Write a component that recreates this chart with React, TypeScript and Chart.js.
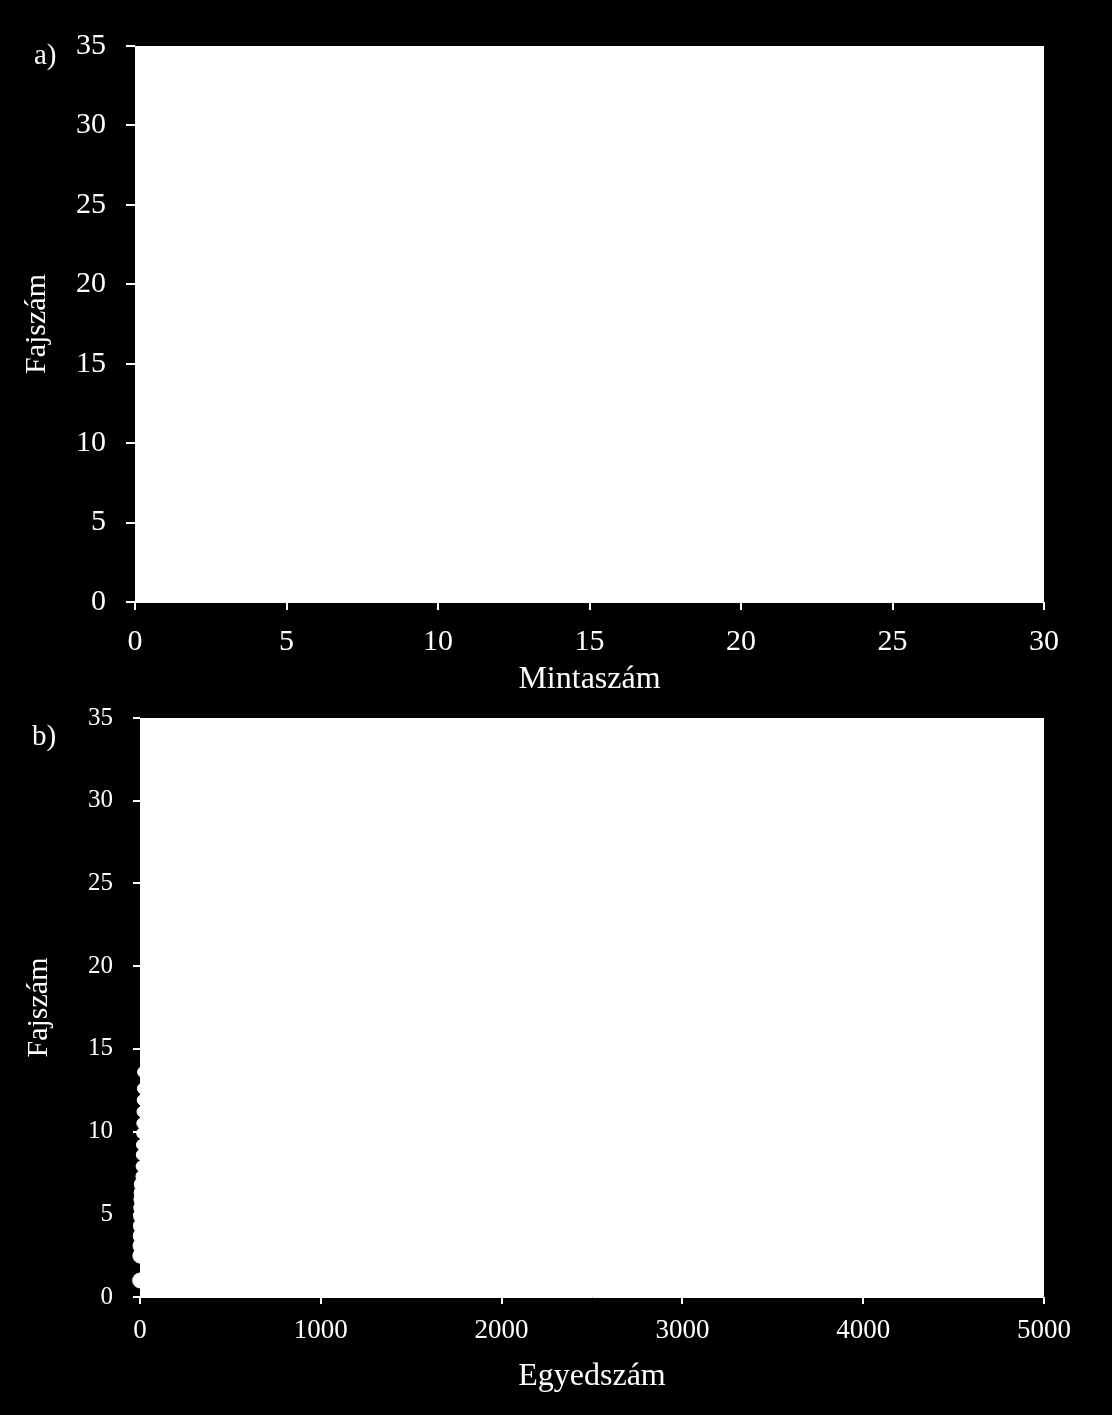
import { useEffect, useRef } from "react";
import { Chart, registerables } from "chart.js";

Chart.register(...registerables);

// a) fajszám a minták számának függvényében
const mintaszam = [1, 2, 3, 4, 5, 6, 7, 8, 9, 10, 11, 12, 13, 14, 15, 16, 17, 18, 19, 20, 21, 22, 23, 24, 25, 26, 27, 28, 29, 30];
const fajszamMinta = [6, 9, 11, 13, 14, 15.5, 17, 18, 19, 20, 20.5, 21, 22, 22.5, 23, 23.5, 24, 24.5, 25, 25, 25.5, 26, 26, 26.5, 27, 27, 27.5, 28, 28, 28.5];

// b) fajszám az egyedszám függvényében
const egyedszamKicsi = [1, 2, 3, 4, 5, 6, 7, 8, 9, 10];
const fajszamKicsi = [1.0, 2.5, 3.1, 3.7, 4.3, 4.9, 5.4, 5.9, 6.3, 6.8];
const egyedszamNagy = [8, 9, 10, 11, 12, 13, 14, 15, 16, 17];
const fajszamNagy = [7.3, 7.9, 8.6, 9.2, 9.9, 10.5, 11.2, 11.9, 12.6, 13.6];

const FONT = "'Liberation Serif', 'Times New Roman', serif";
const WHITE = "#ffffff";

const whiteArea = {
  id: "whiteArea",
  beforeDraw(chart: any) {
    const { ctx, chartArea } = chart;
    const { left, top, right, bottom } = chartArea;
    ctx.save();
    ctx.fillStyle = WHITE;
    ctx.fillRect(left, top, right - left, bottom - top);
    ctx.restore();
  },
};

const ChartA: React.FC = () => {
  const ref = useRef<HTMLCanvasElement | null>(null);

  useEffect(() => {
    if (!ref.current) return;
    const chart = new Chart(ref.current, {
      type: "line",
      data: {
        datasets: [
          {
            label: "Fajszám",
            data: mintaszam.map((m, i) => ({ x: m, y: fajszamMinta[i] })),
            borderColor: WHITE,
            borderWidth: 2,
            pointRadius: 0,
            fill: false,
          },
        ],
      },
      options: {
        animation: false,
        responsive: false,
        devicePixelRatio: 1,
        layout: { padding: { top: 46, right: 68, left: 0, bottom: 0 } },
        plugins: { legend: { display: false }, tooltip: { enabled: false } },
        scales: {
          x: {
            type: "linear",
            min: 0,
            max: 30,
            ticks: { stepSize: 5, color: WHITE, font: { family: FONT, size: 30 }, padding: 14, maxRotation: 0 },
            grid: { drawOnChartArea: false, color: WHITE, lineWidth: 2, tickLength: 8 },
            border: { color: WHITE, width: 1 },
            title: {
              display: true,
              text: "Mintaszám",
              color: WHITE,
              font: { family: FONT, size: 32 },
              padding: { top: 0, bottom: 1 },
            },
            afterFit(scale: any) {
              scale.height = 98;
            },
          },
          y: {
            min: 0,
            max: 35,
            ticks: { stepSize: 5, color: WHITE, font: { family: FONT, size: 30 }, padding: 20 },
            grid: { drawOnChartArea: false, color: WHITE, lineWidth: 2, tickLength: 9 },
            border: { color: WHITE, width: 1 },
            title: {
              display: true,
              text: "Fajszám",
              color: WHITE,
              font: { family: FONT, size: 30 },
              padding: { top: 19, bottom: 0 },
            },
            afterFit(scale: any) {
              scale.width = 135;
            },
          },
        },
      },
      plugins: [whiteArea],
    });
    return () => {
      chart.destroy();
    };
  }, []);

  return <canvas ref={ref} width={1112} height={700} style={{ display: "block", width: 1112, height: 700 }} />;
};

const ChartB: React.FC = () => {
  const ref = useRef<HTMLCanvasElement | null>(null);

  useEffect(() => {
    if (!ref.current) return;
    const chart = new Chart(ref.current, {
      type: "scatter",
      data: {
        datasets: [
          {
            label: "kis egyedszám",
            data: egyedszamKicsi.map((e, i) => ({ x: e, y: fajszamKicsi[i] })),
            backgroundColor: WHITE,
            borderColor: WHITE,
            pointRadius: 7.5,
            clip: false,
          },
          {
            label: "nagyobb egyedszám",
            data: egyedszamNagy.map((e, i) => ({ x: e, y: fajszamNagy[i] })),
            backgroundColor: WHITE,
            borderColor: WHITE,
            pointRadius: 5.5,
            clip: false,
          },
        ],
      },
      options: {
        animation: false,
        responsive: false,
        devicePixelRatio: 1,
        layout: { padding: { top: 35, right: 68, left: 0, bottom: 0 } },
        plugins: { legend: { display: false }, tooltip: { enabled: false } },
        scales: {
          x: {
            type: "linear",
            min: 0,
            max: 5000,
            ticks: {
              stepSize: 1000,
              color: WHITE,
              font: { family: FONT, size: 27 },
              padding: 11,
              maxRotation: 0,
              callback: (v: any) => String(v),
            },
            grid: { drawOnChartArea: false, color: WHITE, lineWidth: 2, tickLength: 7 },
            border: { color: WHITE, width: 1 },
            title: {
              display: true,
              text: "Egyedszám",
              color: WHITE,
              font: { family: FONT, size: 32 },
              padding: { top: 0, bottom: 19 },
            },
            afterFit(scale: any) {
              scale.height = 118;
            },
          },
          y: {
            min: 0,
            max: 35,
            ticks: { stepSize: 5, color: WHITE, font: { family: FONT, size: 25 }, padding: 20 },
            grid: { drawOnChartArea: false, color: WHITE, lineWidth: 2, tickLength: 7 },
            border: { color: WHITE, width: 1 },
            title: {
              display: true,
              text: "Fajszám",
              color: WHITE,
              font: { family: FONT, size: 30 },
              padding: { top: 21, bottom: 0 },
            },
            afterFit(scale: any) {
              scale.width = 140;
            },
          },
        },
      },
      plugins: [whiteArea],
    });
    return () => {
      chart.destroy();
    };
  }, []);

  return <canvas ref={ref} width={1112} height={732} style={{ display: "block", width: 1112, height: 732 }} />;
};

const panelLabel: React.CSSProperties = {
  position: "absolute",
  color: WHITE,
  fontFamily: FONT,
  fontSize: 29,
  lineHeight: "29px",
};

export default function App() {
  return (
    <div style={{ position: "absolute", left: 0, top: 0, width: 1112, height: 1415, background: "#000", overflow: "hidden" }}>
      <div style={{ position: "absolute", left: 0, top: 0 }}>
        <ChartA />
      </div>
      <div style={{ position: "absolute", left: 0, top: 683 }}>
        <ChartB />
      </div>
      <span style={{ ...panelLabel, left: 34, top: 40 }}>a)</span>
      <span style={{ ...panelLabel, left: 32, top: 721 }}>b)</span>
    </div>
  );
}
